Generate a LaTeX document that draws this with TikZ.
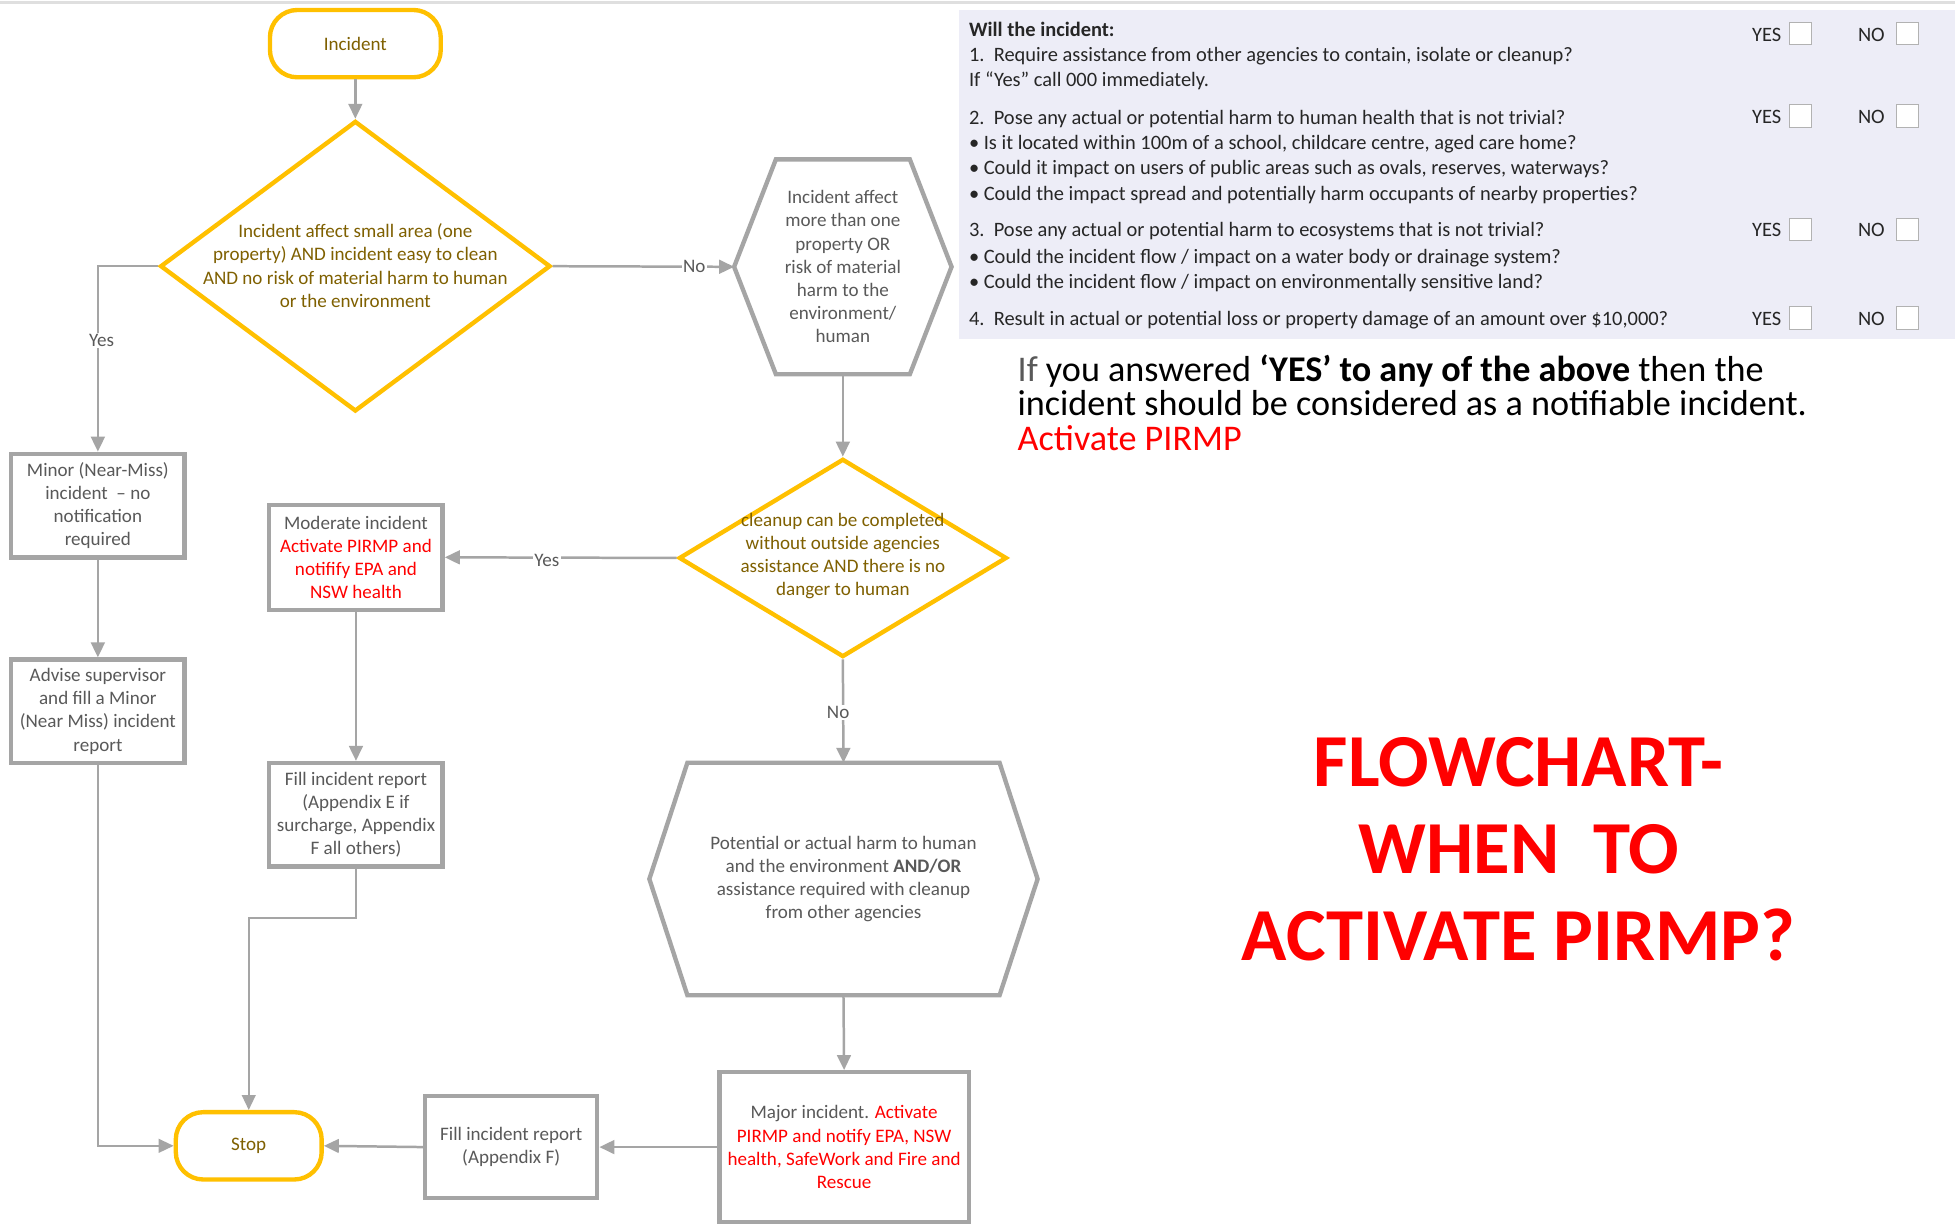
\documentclass[tikz,border=0pt]{standalone}
\usepackage{fontspec}
\setmainfont{Carlito}
\usetikzlibrary{shapes.geometric,arrows.meta,calc}
\definecolor{ygold}{HTML}{FFC000}
\definecolor{ytext}{HTML}{7F6000}
\definecolor{gline}{HTML}{A5A5A5}
\definecolor{gtext}{HTML}{595959}
\definecolor{panelbg}{HTML}{EDEDF7}
\definecolor{myred}{HTML}{FF0000}
\newcommand{\fs}{\fontsize{15.3}{18.6}\selectfont}
\newcommand{\qs}{\fontsize{16.4}{19}\selectfont}
\begin{document}
\begin{tikzpicture}[x=1pt,y=-1pt,
  term/.style={draw=ygold, line width=3.5pt, rounded corners=22pt, text=ytext, font=\fs, inner sep=0pt},
  dia/.style={draw=ygold, line width=3.5pt, diamond, inner sep=0pt},
  dtext/.style={text=ytext, font=\fs, align=center, inner sep=0pt},
  box/.style={draw=gline, line width=3.5pt, text=gtext, font=\fs, align=center, inner sep=0pt},
  hexbox/.style={draw=none, text=gtext, font=\fs, align=center, inner sep=0pt},
  hexline/.style={draw=gline, line width=3.5pt, line join=miter},
  conn/.style={draw=gline, line width=2pt, -{Triangle[length=12pt,width=11pt]}},
  connthin/.style={draw=gline, line width=1.6pt, -{Triangle[length=12pt,width=11pt]}},
  lab/.style={fill=white, text=gtext, font=\fs, inner sep=1pt},
  qline/.style={anchor=base west, inner sep=0pt, font=\qs, text=black!85},
  yn/.style={anchor=base west, inner sep=0pt, font=\qs, text=black!85},
  cbox/.style={draw=gray!60, fill=white, line width=0.8pt, minimum width=18pt, minimum height=18pt, inner sep=0pt}
]
\useasboundingbox (0,0) rectangle (1568,982);
\fill[white] (0,0) rectangle (1568,982);
\draw[gray!25, line width=2pt] (0,2) -- (1568,2);

% ---------- flowchart nodes ----------
\node[term, minimum width=137pt, minimum height=54pt] (inc) at (285,35) {Incident};
\node[dia, minimum width=313pt, minimum height=233pt] (d1) at (285,213.5) {};
\node[dtext] (d1t) at (285,213) {Incident affect small area (one\\property) AND incident easy to clean\\AND no risk of material harm to human\\or the environment};

\node[hexbox, minimum width=174pt, minimum height=172pt] (h1) at (676,214) {Incident affect\\more than one\\property OR\\risk of material\\harm to the\\environment/\\human};
\draw[hexline] (h1.west) -- ($(h1.north west)+(33.5,0)$) -- ($(h1.north east)+(-33.5,0)$) -- (h1.east) -- ($(h1.south east)+(-33.5,0)$) -- ($(h1.south west)+(33.5,0)$) -- cycle;

\node[dia, minimum width=263pt, minimum height=159pt] (d2) at (676,447.5) {};
\node[dtext] (d2t) at (676,446) {cleanup can be completed\\without outside agencies\\assistance AND there is no\\danger to human};

\node[box, minimum width=139pt, minimum height=84pt] (mod) at (285.5,447) {Moderate incident\\\textcolor{myred}{Activate PIRMP and}\\\textcolor{myred}{notifify EPA and}\\\textcolor{myred}{NSW health}};
\node[box, minimum width=139pt, minimum height=83pt] (fillE) at (285.5,653.5) {Fill incident report\\(Appendix E if\\surcharge, Appendix\\F all others)};
\node[box, minimum width=139pt, minimum height=83pt] (minor) at (78.5,405.5) {Minor (Near-Miss)\\incident \ – no\\notification\\required};
\node[box, minimum width=139pt, minimum height=83pt] (advise) at (78.5,570.5) {Advise supervisor\\and fill a Minor\\(Near Miss) incident\\report};
\node[term, minimum width=117pt, minimum height=54pt] (stop) at (199.5,919) {Stop};

\node[hexbox, minimum width=311pt, minimum height=186pt] (h2) at (676.5,705) {Potential or actual harm to human\\and the environment \textbf{AND/OR}\\assistance required with cleanup\\from other agencies};
\draw[hexline] (h2.west) -- ($(h2.north west)+(30.5,0)$) -- ($(h2.north east)+(-30.5,0)$) -- (h2.east) -- ($(h2.south east)+(-30.5,0)$) -- ($(h2.south west)+(30.5,0)$) -- cycle;

\node[box, minimum width=200pt, minimum height=120pt] (major) at (677,920) {Major incident. \textcolor{myred}{Activate}\\\textcolor{myred}{PIRMP and notify EPA, NSW}\\\textcolor{myred}{health, SafeWork and Fire and}\\\textcolor{myred}{Rescue}};
\node[box, minimum width=138pt, minimum height=82pt] (fillF) at (410,920) {Fill incident report\\(Appendix F)};

% ---------- connectors ----------
\draw[conn] (inc.south) -- (d1.north);
\draw[conn] (d1.west) -| node[lab, pos=0.70, xshift=3pt] {Yes} (minor.north);
\draw[conn] (d1.east) -- node[lab, pos=0.78] {No} (h1.west);
\draw[conn] (h1.south) -- (d2.north);
\draw[conn] (d2.west) -- node[lab, pos=0.56, yshift=-2pt] {Yes} (mod.east);
\draw[conn] (d2.south) -- node[lab, pos=0.51, xshift=-4pt] {No} (h2.north);
\draw[conn] (h2.south) -- (major.north);
\draw[conn] (major.west) -- (fillF.east);
\draw[conn] (fillF.west) -- (stop.east);
\draw[conn] (minor.south) -- (advise.north);
\draw[conn] (mod.south) -- (fillE.north);
\coordinate (bend) at (285.5,736);
\draw[connthin] (fillE.south) -- (bend) -| (stop.north);
\draw[connthin] (advise.south) |- (stop.west);

% ---------- question panel ----------
\fill[panelbg] (769,8) rectangle (1568,272);
\node[qline] (q0) at (777,29) {\textbf{Will the incident:}};
\node[qline] (q1) at (777,49) {1.\ \ Require assistance from other agencies to contain, isolate or cleanup?};
\node[qline] (q1b) at (777,69) {If “Yes” call 000 immediately.};
\node[qline] (q2) at (777,100) {2.\ \ Pose any actual or potential harm to human health that is not trivial?};
\node[qline] (q2a) at (777,120) {• Is it located within 100m of a school, childcare centre, aged care home?};
\node[qline] (q2b) at (777,140) {• Could it impact on users of public areas such as ovals, reserves, waterways?};
\node[qline] (q2c) at (777,161) {• Could the impact spread and potentially harm occupants of nearby properties?};
\node[qline] (q3) at (777,190) {3.\ \ Pose any actual or potential harm to ecosystems that is not trivial?};
\node[qline] (q3a) at (777,211) {• Could the incident flow / impact on a water body or drainage system?};
\node[qline] (q3b) at (777,231) {• Could the incident flow / impact on environmentally sensitive land?};
\node[qline] (q4) at (777,261) {4.\ \ Result in actual or potential loss or property damage of an amount over \$10,000?};

\foreach \r/\yy in {1/27,2/93,3/184,4/255}{
  \node[yn] (yes\r) at (1405,\yy+6) {YES};
  \node[cbox] (yb\r) at (1444,\yy) {};
  \node[yn] (no\r) at (1490,\yy+6) {NO};
  \node[cbox] (nb\r) at (1530,\yy) {};
}

% ---------- note ----------
\node[anchor=base west, inner sep=0pt, align=left, font=\fontsize{29}{27.5}\selectfont] (note) at (816,361) {\textcolor{gtext}{If} you answered \textbf{‘YES’ to any of the above} then the\\incident should be considered as a notifiable incident.\\\textcolor{myred}{Activate PIRMP}};

% ---------- title ----------
\node[align=center, inner sep=0pt, text=myred, font=\fontsize{60}{70}\selectfont\bfseries] (title) at (1218,681) {FLOWCHART-\\WHEN\ \ TO\\ACTIVATE PIRMP?};
\end{tikzpicture}
\end{document}
